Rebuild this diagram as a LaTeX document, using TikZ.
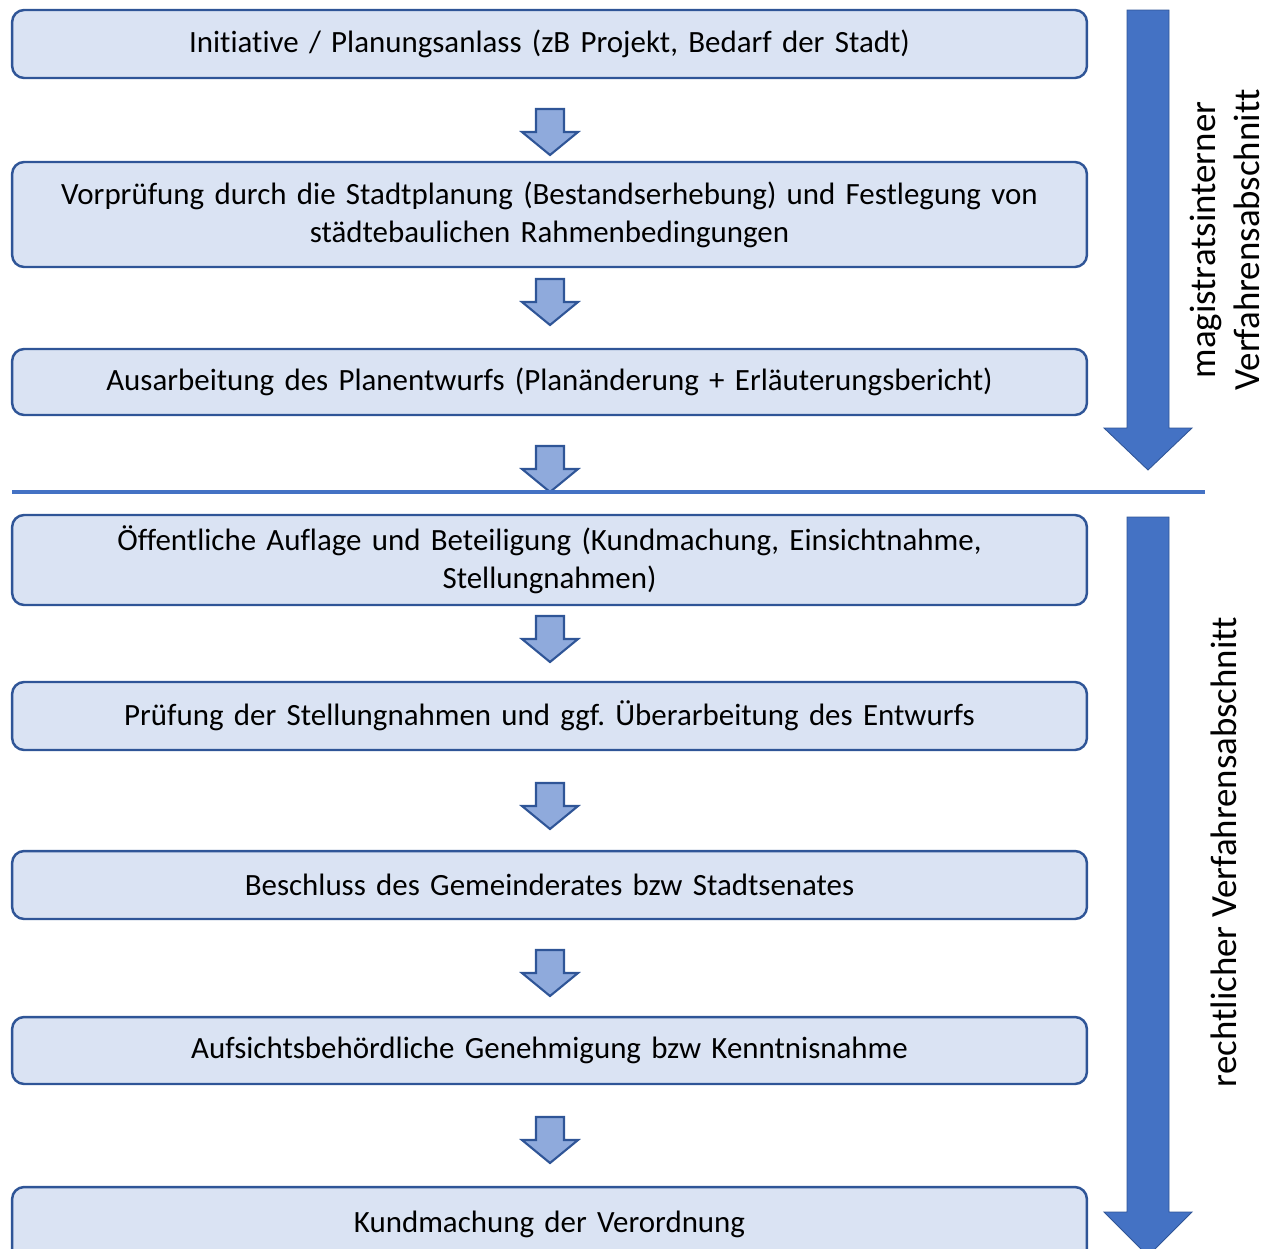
\documentclass[tikz,border=0pt]{standalone}
\usepackage{fontspec}
\setmainfont{Carlito}[Ligatures=NoCommon]
\usepackage{tikz}
\usetikzlibrary{positioning}
\frenchspacing

\definecolor{boxfill}{HTML}{DAE3F3}
\definecolor{boxline}{HTML}{2F5597}
\definecolor{stepfill}{HTML}{8FAADC}
\definecolor{phasefill}{HTML}{4472C4}

\tikzset{
  stage/.style={draw=boxline, line width=1.4pt, fill=boxfill, rounded corners=0.24cm,
    minimum width=21.5cm, text width=21cm, align=center, inner sep=0pt,
    font=\fontsize{17.6}{21.5}\selectfont},
  smallarrow/.style={draw=boxline, line width=1.2pt, fill=stepfill, line join=miter},
  bigarrow/.style={draw=boxline, line width=0.5pt, fill=phasefill},
  phaselabel/.style={rotate=90, align=center, font=\fontsize{21}{25}\selectfont},
  pics/stepdown/.style={code={
    \draw [smallarrow] (-14,0) -- (14,0) -- (14,23) -- (28,23) -- (0,46) -- (-28,23) -- (-14,23) -- cycle;
  }}
}

\begin{document}
\begin{tikzpicture}[x=0.02cm, y=-0.02cm]
            \useasboundingbox (0,0) rectangle (1274,1248);

            \node [stage, minimum height=1.36cm] (init) at (549.5,44) {Initiative / Planungsanlass (zB Projekt, Bedarf der Stadt)};
            \node [stage, minimum height=2.1cm] (vorpr) at (549.5,214.5) {Vorprüfung durch die Stadtplanung (Bestandserhebung) und Festlegung von\\städtebaulichen Rahmenbedingungen};
            \node [stage, minimum height=1.32cm] (entw) at (549.5,382) {Ausarbeitung des Planentwurfs (Planänderung + Erläuterungsbericht)};
            \node [stage, minimum height=1.8cm] (aufl) at (549.5,560) {Öffentliche Auflage und Beteiligung (Kundmachung, Einsichtnahme,\\Stellungnahmen)};
            \node [stage, minimum height=1.36cm] (pruef) at (549.5,716) {Prüfung der Stellungnahmen und ggf. Überarbeitung des Entwurfs};
            \node [stage, minimum height=1.36cm] (beschl) at (549.5,885) {Beschluss des Gemeinderates bzw Stadtsenates};
            \node [stage, minimum height=1.34cm] (genehm) at (549.5,1050.5) {Aufsichtsbehördliche Genehmigung bzw Kenntnisnahme};
            \node [stage, minimum height=1.5cm] (kundm) at (549.5,1224.5) {Kundmachung der Verordnung};

            % steps between the stages
            \pic at (550,109) {stepdown};
            \pic at (550,279) {stepdown};
            \pic at (550,446) {stepdown};
            \pic at (550,616) {stepdown};
            \pic at (550,783) {stepdown};
            \pic at (550,950) {stepdown};
            \pic at (550,1117) {stepdown};

            \draw [phasefill, line width=2.8pt] (12,492) -- (1205,492);

            % phases
            \draw [bigarrow] (1127,10) -- (1169,10) -- (1169,428) -- (1192,428) -- (1148,470) -- (1104,428) -- (1127,428) -- cycle;
            \draw [bigarrow] (1127,517) -- (1169,517) -- (1169,1212) -- (1192,1212) -- (1148,1256) -- (1104,1212) -- (1127,1212) -- cycle;

            \node [phaselabel] (intern) at (1225,240) {magistratsinterner\\Verfahrensabschnitt};
            \node [phaselabel] (recht) at (1224,852) {rechtlicher Verfahrensabschnitt};
        \end{tikzpicture}
\end{document}
